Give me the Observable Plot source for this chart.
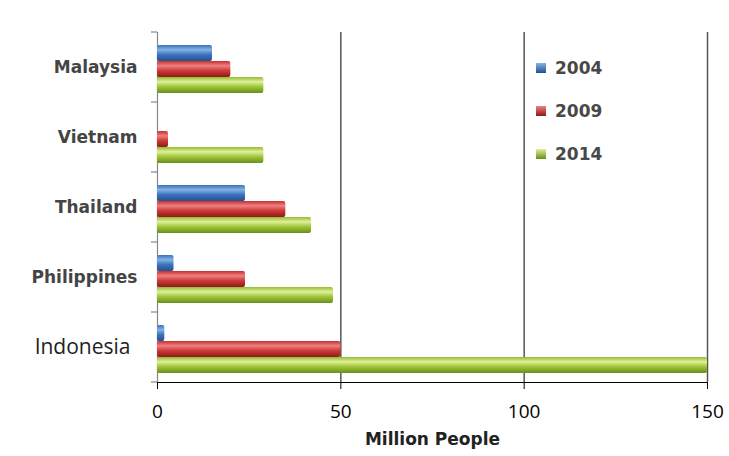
<!DOCTYPE html>
<html>
<head>
<meta charset="utf-8">
<script src="https://cdn.jsdelivr.net/npm/d3@7"></script>
<script src="https://cdn.jsdelivr.net/npm/@observablehq/plot@0.6"></script>
<style>
  body { margin: 0; background: #fff; }
  #wrap { position: relative; width: 729px; height: 456px; }
  #legend { position: absolute; left: 536px; top: 46px; font-family: "DejaVu Sans", sans-serif; }
  #legend .item { display: flex; align-items: center; height: 43px; font-weight: bold; font-size: 17px; color: #484848; }
  #legend .sw { width: 10px; height: 10px; margin-right: 9px; }
</style>
</head>
<body>
<div id="wrap"></div>
<script>
// Internet users by country, million people
const countries = ["Malaysia", "Vietnam", "Thailand", "Philippines", "Indonesia"];
const years = ["2004", "2009", "2014"];
const users2004 = [15, null, 24, 4.5, 2];
const users2009 = [20, 3, 35, 24, 50];
const users2014 = [29, 29, 42, 48, 150];
const xTicks = [0, 50, 100, 150];
const xLabel = "Million People";

const series = {"2004": users2004, "2009": users2009, "2014": users2014};
const table = [];
for (const year of years) {
  countries.forEach((country, i) => {
    const value = series[year][i];
    if (value != null) table.push({country, year, value});
  });
}

// Cylinder-like shading for each series
const gradients = {
  "2004": ["#3a72bd", "#86b2e4", "#3b74bd", "#24508f"],
  "2009": ["#c8302e", "#ee8080", "#cd3a38", "#8e1a1a"],
  "2014": ["#94bc30", "#e0f09a", "#a0c63a", "#66901c"]
};

const barFor = year => Plot.barX(table, {
  filter: d => d.year === year,
  x: "value",
  y: "year",
  fill: `url(#bar${year})`,
  rx: 2
});

const plot = Plot.plot({
  width: 729,
  height: 456,
  marginLeft: 157,
  marginRight: 22,
  marginTop: 30,
  marginBottom: 73,
  style: {fontFamily: "'Open Sans', sans-serif", fontSize: "19px", background: "transparent"},
  facet: {data: table, y: "country"},
  fy: {domain: countries, padding: 0, tickSize: 0, tickPadding: 20, label: null},
  y: {domain: years, paddingInner: 0, paddingOuter: 0.62, align: 0.6, axis: null},
  x: {domain: [0, 150], ticks: xTicks, tickSize: 7, tickPadding: 15, label: xLabel, labelAnchor: "center", labelOffset: 62, line: true},
  marks: [
    Plot.ruleX(xTicks.slice(1), {stroke: "#555", strokeWidth: 1.5}),
    Plot.ruleX([0], {stroke: "#888", strokeWidth: 1.2}),
    barFor("2004"),
    barFor("2009"),
    barFor("2014")
  ]
});

const svg = d3.select(plot);
const defs = svg.insert("defs", ":first-child");
for (const year of years) {
  const [top, hi, mid, bottom] = gradients[year];
  const g = defs.append("linearGradient").attr("id", `bar${year}`)
    .attr("x1", 0).attr("y1", 0).attr("x2", 0).attr("y2", 1);
  g.append("stop").attr("offset", "0%").attr("stop-color", top);
  g.append("stop").attr("offset", "30%").attr("stop-color", hi);
  g.append("stop").attr("offset", "60%").attr("stop-color", mid);
  g.append("stop").attr("offset", "100%").attr("stop-color", bottom);
}

// Category boundary ticks on the left axis
const fy = plot.scale("fy");
const xs = plot.scale("x");
const x0 = xs.apply(0);
const bounds = countries.map(c => fy.apply(c));
bounds.push(bounds[bounds.length - 1] + fy.bandwidth);
svg.append("g").attr("stroke", "#888").attr("stroke-width", 1.2)
  .selectAll("line").data(bounds).join("line")
  .attr("x1", x0 - 6).attr("x2", x0).attr("y1", d => d).attr("y2", d => d);

// Axis text styling
svg.selectAll("[aria-label='fy-axis'] text, [aria-label='fy-axis tick label'] text")
  .each(function() {
    const regular = this.textContent === "Indonesia";
    d3.select(this)
      .attr("font-family", regular ? "'Open Sans', sans-serif" : "'DejaVu Sans', sans-serif")
      .attr("font-size", regular ? "21px" : "17px")
      .attr("font-weight", regular ? "normal" : "bold")
      .attr("fill", regular ? "#222" : "#444")
      .attr("dx", regular ? -7 : null);
  });
svg.selectAll("[aria-label='x-axis'] line, [aria-label='x-axis'] path").attr("stroke", "#888");
svg.selectAll("[aria-label='x-axis'] .tick text").attr("fill", "#222");
svg.selectAll("text").filter(function() { return this.textContent.startsWith(xLabel); })
  .text(xLabel)
  .attr("font-family", "'DejaVu Sans', sans-serif")
  .attr("font-weight", "bold").attr("font-size", "17px").attr("fill", "#222");

const wrap = document.getElementById("wrap");
wrap.appendChild(plot);

const legend = d3.select(wrap).append("div").attr("id", "legend");
for (const year of years) {
  const item = legend.append("div").attr("class", "item");
  item.append("div").attr("class", "sw")
    .style("background", `linear-gradient(${gradients[year][1]}, ${gradients[year][3]})`);
  item.append("span").text(year);
}
</script>
</body>
</html>
